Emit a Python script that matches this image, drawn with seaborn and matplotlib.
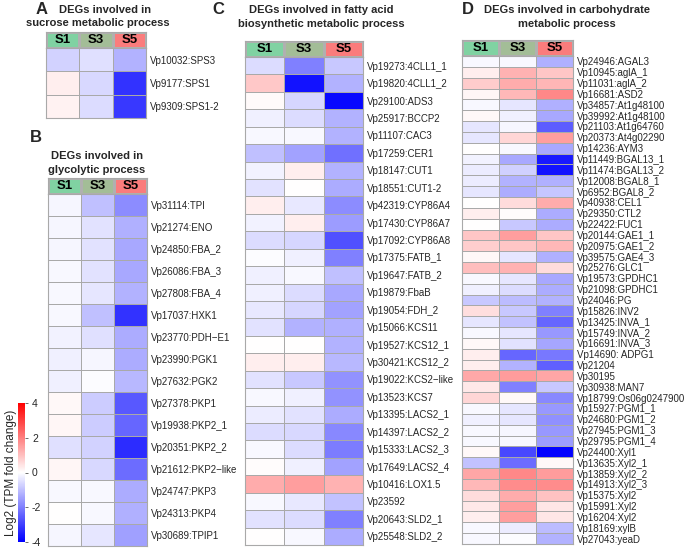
import numpy as np
import pandas as pd
import seaborn as sns
import matplotlib.pyplot as plt
from matplotlib.colors import ListedColormap, Normalize
from matplotlib.cm import ScalarMappable

sns.set_theme(style="white")
plt.rcParams['font.family'] = ['Liberation Sans', 'DejaVu Sans']
plt.rcParams['axes.unicode_minus'] = False

stages = ['S1', 'S3', 'S5']
header_colors = ['#80d2a2', '#a3bd97', '#fa7c7c']

# A: sucrose metabolic process
genes_a = ['Vp10032:SPS3', 'Vp9177:SPS1', 'Vp9309:SPS1-2']
s1_a = [-0.7, 0.25, 0.2]
s3_a = [-0.5, -0.6, -0.55]
s5_a = [-1.2, -3.2, -3.1]

# B: glycolytic process
genes_b = ['Vp31114:TPI', 'Vp21274:ENO', 'Vp24850:FBA_2', 'Vp26086:FBA_3',
           'Vp27808:FBA_4', 'Vp17037:HXK1', 'Vp23770:PDH\u2212E1', 'Vp23990:PGK1',
           'Vp27632:PGK2', 'Vp27378:PKP1', 'Vp19938:PKP2_1', 'Vp20351:PKP2_2',
           'Vp21612:PKP2\u2212like', 'Vp24747:PKP3', 'Vp24313:PKP4', 'Vp30689:TPIP1']
s1_b = [-0.15, -0.15, -0.15, -0.1, -0.1, -0.1, -0.2, -0.25, -0.25, 0.1, 0.15, -0.5,
        0.15, -0.1, 0.0, -0.15]
s3_b = [-1.0, -0.45, -0.45, -0.45, -0.4, -1.0, -0.5, -0.15, -0.05, -0.8, -0.8, -0.7,
        -0.6, -0.1, -0.1, -0.4]
s5_b = [-1.8, -1.25, -1.35, -1.35, -1.2, -3.2, -1.3, -1.3, -1.1, -2.6, -2.4, -3.3,
        -2.3, -1.3, -1.25, -1.5]

# C: fatty acid biosynthetic metabolic process
genes_c = ['Vp19273:4CLL1_1', 'Vp19820:4CLL1_2', 'Vp29100:ADS3', 'Vp25917:BCCP2',
           'Vp11107:CAC3', 'Vp17259:CER1', 'Vp18147:CUT1', 'Vp18551:CUT1-2',
           'Vp42319:CYP86A4', 'Vp17430:CYP86A7', 'Vp17092:CYP86A8', 'Vp17375:FATB_1',
           'Vp19647:FATB_2', 'Vp19879:FbaB', 'Vp19054:FDH_2', 'Vp15066:KCS11',
           'Vp19527:KCS12_1', 'Vp30421:KCS12_2', 'Vp19022:KCS2\u2212like', 'Vp13523:KCS7',
           'Vp13395:LACS2_1', 'Vp14397:LACS2_2', 'Vp15333:LACS2_3', 'Vp17649:LACS2_4',
           'Vp10416:LOX1.5', 'Vp23592', 'Vp20643:SLD2_1', 'Vp25548:SLD2_2']
s1_c = [-0.55, 0.85, 0.08, -0.25, -0.1, -1.0, -0.2, -0.45, 0.25, -0.2, -0.55, -0.05,
        -0.25, -0.25, -0.35, -0.45, 0.0, 0.25, -0.45, -0.1, -0.3, -0.55, -0.1, 0.05,
        1.3, -0.1, -0.45, 0.0]
s3_c = [-2.0, -3.7, -0.65, -0.55, -0.1, -1.45, 0.25, 0.0, -0.35, 0.25, -0.65, -0.25,
        -0.1, -0.55, -0.65, -1.2, 0.03, 0.25, -0.85, -0.25, -0.45, -0.6, -0.55, -0.25,
        1.5, -0.35, -0.55, -0.1]
s5_c = [-0.85, -1.2, -3.85, -1.2, -1.2, -2.25, -1.2, -1.3, -1.8, -1.55, -2.75, -2.0,
        -1.0, -1.35, -1.45, -1.25, -1.2, -1.1, -1.7, -1.7, -1.3, -1.85, -2.05, -1.45,
        1.2, -0.95, -2.0, -1.3]

# D: carbohydrate metabolic process
genes_d = ['Vp24946:AGAL3', 'Vp10945:aglA_1', 'Vp11031:aglA_2', 'Vp16681:ASD2',
           'Vp34857:At1g48100', 'Vp39992:At1g48100', 'Vp21103:At1g64760',
           'Vp20373:At4g02290', 'Vp14236:AYM3', 'Vp11449:BGAL13_1', 'Vp11474:BGAL13_2',
           'Vp12008:BGAL8_1', 'Vp6952:BGAL8_2', 'Vp40938:CEL1', 'Vp29350:CTL2',
           'Vp22422:FUC1', 'Vp20144:GAE1_1', 'Vp20975:GAE1_2', 'Vp39575:GAE4_3',
           'Vp25276:GLC1', 'Vp19573:GPDHC1', 'Vp21098:GPDHC1', 'Vp24046:PG',
           'Vp15826:INV2', 'Vp13425:INVA_1', 'Vp15749:INVA_2', 'Vp16691:INVA_3',
           'Vp14690: ADPG1', 'Vp21204', 'Vp30195', 'Vp30938:MAN7',
           'Vp18799:Os06g0247900', 'Vp15927:PGM1_1', 'Vp24680:PGM1_2', 'Vp27945:PGM1_3',
           'Vp29795:PGM1_4', 'Vp24400:Xyl1', 'Vp13635:Xyl2_1', 'Vp13859:Xyl2_2',
           'Vp14913:Xyl2_3', 'Vp15375:Xyl2', 'Vp15991:Xyl2', 'Vp16204:Xyl2',
           'Vp18169:xylB', 'Vp27043:yeaD']
s1_d = [-0.1, 0.25, 0.8, 0.15, -0.1, 0.1, -0.4, -0.4, 0.0, -0.2, -0.3, -0.3, -0.4,
        0.0, 0.25, 0.0, 0.9, 0.75, 0.1, 1.0, -0.1, -0.25, -0.85, 0.5, -0.4, -0.1, 0.1,
        0.25, 0.25, 1.35, 0.35, 0.65, -0.1, -0.25, -0.1, -0.1, 0.1, -0.95, 1.4, 1.1,
        0.55, 0.35, 0.25, -0.1, -0.1]
s3_d = [-0.1, 1.2, 1.3, 1.1, -0.4, -0.25, -0.15, 0.65, -0.1, -1.35, -0.75, -1.2, -1.3,
        0.55, 0.05, -0.85, 1.5, 0.9, -0.4, 1.2, -0.4, -0.55, -1.05, -0.85, -0.95, -0.4,
        -0.45, -2.4, -1.2, 1.55, -2.0, 0.1, -0.4, -0.4, -0.15, -0.1, -2.85, -2.3, 1.85,
        1.8, 1.3, 1.5, 1.5, -0.3, -0.05]
s5_d = [-1.25, 0.9, 1.15, 1.85, -1.25, -1.35, -2.55, 1.5, -1.35, -3.6, -3.7, -1.25,
        -0.9, 1.3, -1.3, -1.3, 0.9, 1.1, -1.25, 0.55, -1.35, -1.3, -1.2, -2.0, -2.4,
        -1.6, -1.4, -2.1, -2.5, 1.4, -0.85, -1.85, -1.6, -1.75, -1.6, -1.55, -3.95, 0.1,
        1.55, 1.8, 0.95, 0.4, 0.4, -1.05, -1.2]

W, H = 685, 548
fig = plt.figure(figsize=(W / 100, H / 100), dpi=100)


def px_axes(x0, y0, x1, y1):
    return fig.add_axes([x0 / W, 1 - y1 / H, (x1 - x0) / W, (y1 - y0) / H])


def ftext(x, y, s, **kw):
    fig.text(x / W, 1 - y / H, s, **kw)


def panel(genes, s1, s3, s5, x0, x1, yh, y0, y1):
    df = pd.DataFrame({'S1': s1, 'S3': s3, 'S5': s5}, index=genes)
    hax = px_axes(x0, yh, x1, y0)
    sns.heatmap(np.array([[0, 1, 2]]), ax=hax, cmap=ListedColormap(header_colors),
                vmin=0, vmax=2, cbar=False, annot=np.array([stages]), fmt='',
                annot_kws=dict(weight='bold', size=9.5, color='black'),
                linewidths=0.8, linecolor='#b0b0b0', xticklabels=False, yticklabels=False)
    ax = px_axes(x0, y0, x1, y1)
    sns.heatmap(df, ax=ax, cmap='bwr', vmin=-4, vmax=4, cbar=False,
                linewidths=0.7, linecolor='#a9a9a9', xticklabels=False, yticklabels=True)
    ax.yaxis.tick_right()
    ax.tick_params(axis='y', length=0, pad=3, labelsize=7, rotation=0)
    for a in (ax, hax):
        for sp in a.spines.values():
            sp.set_visible(True)
            sp.set_color('#a9a9a9')
            sp.set_linewidth(0.8)
    return ax


panel(genes_a, s1_a, s3_a, s5_a, 46, 146, 32, 48, 118)
panel(genes_b, s1_b, s3_b, s5_b, 48, 147, 178, 194, 546)
panel(genes_c, s1_c, s3_c, s5_c, 245, 363, 41, 57, 545)
panel(genes_d, s1_d, s3_d, s5_d, 462, 573, 40, 56, 544)

tkw = dict(weight='bold', size=8, ha='center', va='center')
lkw = dict(weight='bold', size=12, ha='left', va='center')
ftext(36, 9, 'A', **lkw)
ftext(105, 10, 'DEGs involved in', **tkw)
ftext(98, 23, 'sucrose metabolic process', **tkw)
ftext(30, 137, 'B', **lkw)
ftext(97, 156, 'DEGs involved in', **tkw)
ftext(97, 170, 'glycolytic process', **tkw)
ftext(212, 10, 'C', **lkw)
ftext(321, 10, 'DEGs involved in fatty acid', **tkw)
ftext(321, 24, 'biosynthetic metabolic process', **tkw)
ftext(462, 10, 'D', **lkw)
ftext(567, 10, 'DEGs involved in carbohydrate', **tkw)
ftext(567, 24, 'metabolic process', **tkw)

# colour bar
cax = px_axes(18, 403, 25, 542)
sm = ScalarMappable(norm=Normalize(-4, 4), cmap='bwr')
cb = fig.colorbar(sm, cax=cax, ticks=[-4, -2, 0, 2, 4])
cb.outline.set_visible(False)
cax.tick_params(axis='y', length=2, width=0.6, pad=3, labelsize=7.5, color='#555555')
cax.yaxis.set_label_position('left')
cax.set_ylabel('Log2 (TPM fold change)', size=8.5, labelpad=1)

fig.savefig('out.png', dpi=100)
